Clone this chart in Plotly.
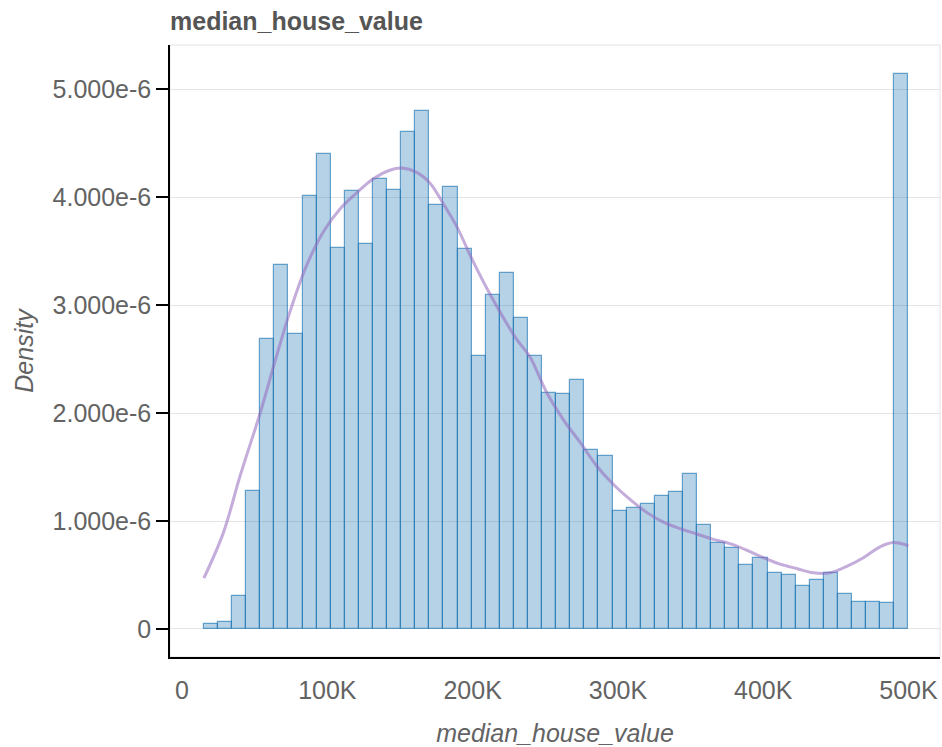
import plotly.graph_objects as go

# Histogram of median_house_value (density-normalised, 50 equal bins)
BIN_START = 14999
BIN_END = 500001
N_BINS = 50

density_e6 = [
    0.043, 0.066, 0.307, 1.277, 2.69, 3.376, 2.73, 4.01, 4.40, 3.53,
    4.06, 3.57, 4.17, 4.07, 4.60, 4.80, 3.93, 4.09, 3.52, 2.53,
    3.09, 3.30, 2.88, 2.53, 2.19, 2.18, 2.31, 1.66, 1.60, 1.09,
    1.12, 1.16, 1.23, 1.27, 1.44, 0.96, 0.80, 0.75, 0.59, 0.66,
    0.52, 0.50, 0.40, 0.45, 0.52, 0.32, 0.25, 0.25, 0.24, 5.145,
]

# Kernel density estimate sampled along the value range
kde_x_k = [
    15, 28.4, 40, 54, 64, 74.3, 85.8, 97.3, 108.7, 120.2, 131.7, 143, 151,
    161.5, 170.7, 179.8, 189, 200.5, 212, 230, 239.5, 251, 262.4, 273.9,
    285.4, 296.8, 308.3, 319.8, 331.3, 342.7, 354.2, 365.7, 377.1, 388.6,
    400, 411.6, 423, 434.5, 446, 457.5, 469, 480.4, 489.6, 500,
]
kde_y_e6 = [
    0.47, 0.89, 1.42, 2.01, 2.48, 2.94, 3.37, 3.68, 3.89, 4.04, 4.17, 4.25, 4.27,
    4.23, 4.13, 3.94, 3.73, 3.40, 3.10, 2.69, 2.52, 2.19, 1.94, 1.73,
    1.51, 1.34, 1.20, 1.08, 0.99, 0.93, 0.88, 0.83, 0.79, 0.73,
    0.66, 0.60, 0.56, 0.52, 0.52, 0.58, 0.66, 0.76, 0.80, 0.77,
]

y_tick_vals = [0, 1e-6, 2e-6, 3e-6, 4e-6, 5e-6]
y_tick_text = ["0", "1.000e-6", "2.000e-6", "3.000e-6", "4.000e-6", "5.000e-6"]
x_tick_vals = [0, 100000, 200000, 300000, 400000, 500000]
x_tick_text = ["0", "100K", "200K", "300K", "400K", "500K"]

bin_width = (BIN_END - BIN_START) / N_BINS
bin_centers = [BIN_START + bin_width * (i + 0.5) for i in range(N_BINS)]
density = [v * 1e-6 for v in density_e6]
kde_x = [v * 1000 for v in kde_x_k]
kde_y = [v * 1e-6 for v in kde_y_e6]

FONT = "Liberation Sans, Arial, sans-serif"
TEXT = "#636363"
TITLE = "#555555"
SIZE = 25

fig = go.Figure()
fig.add_trace(go.Bar(
    x=bin_centers,
    y=density,
    width=bin_width,
    marker=dict(color="rgba(31,119,180,0.33)",
                line=dict(color="rgba(31,119,180,0.65)", width=1.2)),
    hoverinfo="x+y",
    showlegend=False,
))
fig.add_trace(go.Scatter(
    x=kde_x,
    y=kde_y,
    mode="lines",
    line=dict(color="rgba(148,103,189,0.55)", width=3, shape="spline", smoothing=1.0),
    showlegend=False,
))

# light frame around the plotting area
fig.add_shape(type="rect", xref="paper", yref="paper", x0=0, y0=0, x1=1, y1=1,
              line=dict(color="#e2e2e2", width=1), layer="below")

fig.update_layout(
    width=942,
    height=747,
    margin=dict(l=170, r=2, t=45, b=90),
    plot_bgcolor="white",
    paper_bgcolor="white",
    bargap=0,
    font=dict(family=FONT, size=SIZE, color=TEXT),
    title=dict(text="<b>median_house_value</b>", x=0, xref="paper", xanchor="left",
               y=1 - 12 / 747, yref="container", yanchor="top", pad=dict(t=0),
               font=dict(family=FONT, size=SIZE, color=TITLE)),
)
fig.update_xaxes(
    range=[-8300, 521700],
    tickvals=x_tick_vals,
    ticktext=x_tick_text,
    tickfont=dict(size=SIZE, color=TEXT),
    showgrid=False,
    zeroline=False,
    showline=True,
    linecolor="black",
    linewidth=1.5,
    ticks="",
    ticklabelstandoff=10,
    title=dict(text="<i>median_house_value</i>", standoff=24,
               font=dict(family=FONT, size=SIZE, color=TEXT)),
)
fig.update_yaxes(
    range=[-0.26e-6, 5.41e-6],
    tickvals=y_tick_vals,
    ticktext=y_tick_text,
    tickfont=dict(size=SIZE, color=TEXT),
    showgrid=True,
    gridcolor="#e4e4e4",
    gridwidth=1,
    zeroline=False,
    showline=True,
    linecolor="black",
    linewidth=1.5,
    ticks="outside",
    ticklen=12,
    tickcolor="black",
    tickwidth=1.5,
    ticklabelstandoff=0,
    title=dict(text="<i>Density</i>", standoff=12,
               font=dict(family=FONT, size=SIZE, color=TEXT)),
)

fig.write_html("out.html")
